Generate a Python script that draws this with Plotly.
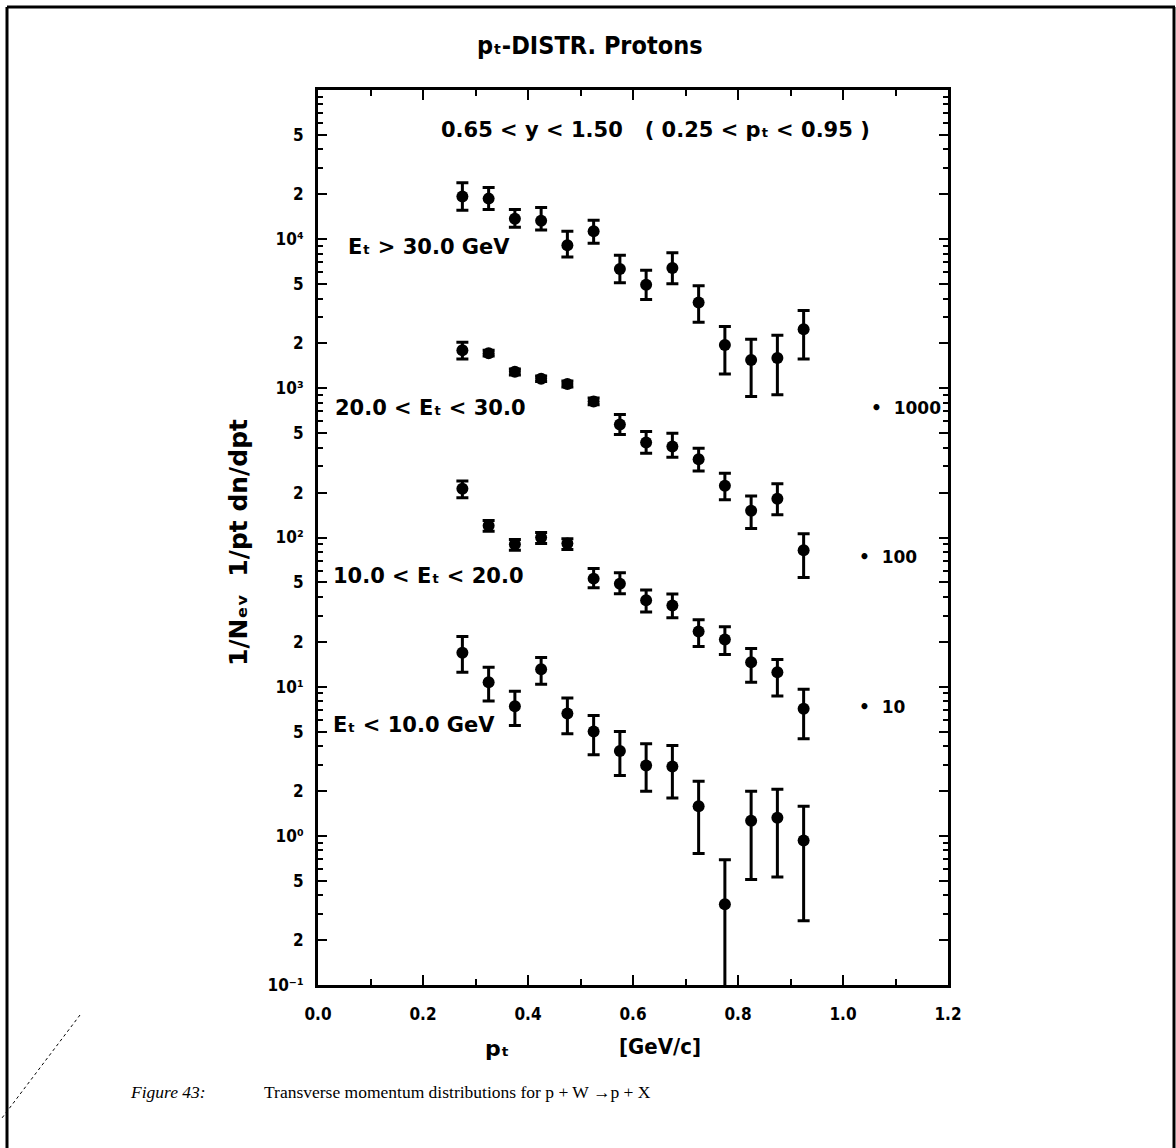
import plotly.graph_objects as go

# ---------------- data ----------------
pt = [0.275, 0.325, 0.375, 0.425, 0.475, 0.525, 0.575,
      0.625, 0.675, 0.725, 0.775, 0.825, 0.875, 0.925]

# E_t > 30 GeV
et30_y = [19300, 18700, 13700, 13300, 9100, 11300, 6300, 4940, 6400, 3760, 1950, 1550, 1600, 2490]
et30_hi = [23900, 22200, 15800, 16300, 11300, 13400, 7800, 6200, 8100, 4880, 2600, 2130, 2270, 3320]
et30_lo = [15600, 15800, 12000, 11500, 7600, 9400, 5100, 3940, 5030, 2770, 1250, 880, 905, 1570]

# 20 < E_t < 30  (x 1000)
et20_y = [1800, 1720, 1290, 1160, 1070, 815, 572, 434, 408, 335, 222, 151, 182, 82]
et20_hi = [2040, 1800, 1350, 1210, 1120, 860, 667, 514, 499, 396, 270, 190, 229, 106]
et20_lo = [1570, 1650, 1230, 1110, 1020, 775, 491, 367, 345, 279, 179, 115, 142, 54]

# 10 < E_t < 20  (x 100)
et10_y = [212, 120, 90, 100, 91, 53, 49, 38, 35, 23.4, 20.7, 14.6, 12.5, 7.1]
et10_hi = [239, 130, 97, 108, 98, 62, 58, 44.5, 41.8, 28.1, 25.2, 18.0, 15.2, 9.6]
et10_lo = [185, 110, 82, 91, 83, 46, 42, 31.7, 29.0, 18.6, 16.4, 10.7, 8.65, 4.48]

# E_t < 10 GeV  (x 10)
et0_y = [16.9, 10.7, 7.4, 13.1, 6.6, 5.0, 3.7, 2.96, 2.92, 1.58, 0.348, 1.26, 1.32, 0.93]
et0_hi = [21.7, 13.5, 9.3, 15.7, 8.4, 6.4, 5.0, 4.15, 4.03, 2.32, 0.69, 1.99, 2.05, 1.58]
et0_lo = [12.5, 8.0, 5.5, 10.4, 4.83, 3.5, 2.54, 1.99, 1.79, 0.76, 0.05, 0.51, 0.53, 0.27]

x_tick_vals = [0.0, 0.2, 0.4, 0.6, 0.8, 1.0, 1.2]
x_tick_text = ["0.0", "0.2", "0.4", "0.6", "0.8", "1.0", "1.2"]

y_tick_vals = [0.1, 0.2, 0.5, 1, 2, 5, 10, 20, 50, 100, 200, 500,
               1000, 2000, 5000, 10000, 20000, 50000]
y_tick_text = ["10\u207b\u00b9", "2", "5", "10\u2070", "2", "5",
               "10\u00b9", "2", "5", "10\u00b2", "2", "5",
               "10\u00b3", "2", "5", "10\u2074", "2", "5"]

series = [(et30_y, et30_hi, et30_lo), (et20_y, et20_hi, et20_lo),
          (et10_y, et10_hi, et10_lo), (et0_y, et0_hi, et0_lo)]

# ---------------- figure ----------------
COND = "DejaVu Sans Condensed, Liberation Sans Narrow, Arial Narrow, sans-serif"
WIDE = "DejaVu Sans, Noto Sans, sans-serif"
SERIF = "Liberation Serif, Times New Roman, serif"

fig = go.Figure()
for ys, his, los in series:
    fig.add_trace(go.Scatter(
        x=pt, y=ys, mode="markers",
        marker=dict(color="black", size=12),
        error_y=dict(type="data", symmetric=False,
                     array=[h - v for h, v in zip(his, ys)],
                     arrayminus=[v - l for v, l in zip(ys, los)],
                     color="black", thickness=3, width=6),
        showlegend=False, cliponaxis=True))

# minor tick positions on the log axis (2..9 in every decade)
minor_vals = []
for e in range(-1, 5):
    for k in range(2, 10):
        minor_vals.append(k * 10 ** e)

L, R, T, B = 318, 228, 90, 163
W, H = 1176, 1148
pw, ph = W - L - R, H - T - B


def px(x):
    return (x - L) / pw


def py(y):
    return (H - B - y) / ph


fig.update_layout(
    width=W, height=H,
    margin=dict(l=L, r=R, t=T, b=B, pad=0),
    paper_bgcolor="white", plot_bgcolor="white",
    font=dict(family=COND, color="black", size=16, weight=700),
    xaxis=dict(range=[0, 1.2], tickvals=x_tick_vals, ticktext=x_tick_text,
               ticks="inside", ticklen=10, tickwidth=2, tickcolor="black",
               showline=True, linewidth=3, linecolor="black", mirror="allticks",
               showgrid=False, zeroline=False, ticklabelstandoff=12,
               tickfont=dict(size=17, family=COND, weight=700),
               minor=dict(tickmode="linear", tick0=0, dtick=0.1, ticks="inside",
                          ticklen=6, tickwidth=2, tickcolor="black", showgrid=False)),
    yaxis=dict(type="log", range=[-1, 5], tickvals=y_tick_vals, ticktext=y_tick_text,
               ticks="inside", ticklen=9, tickwidth=2, tickcolor="black",
               showline=True, linewidth=3, linecolor="black", mirror="allticks",
               showgrid=False, zeroline=False, ticklabelstandoff=8,
               tickfont=dict(size=17, family=COND, weight=700),
               minor=dict(tickmode="array", tickvals=minor_vals, ticks="inside",
                          ticklen=5, tickwidth=2, tickcolor="black", showgrid=False)),
)

ann_font = dict(family=WIDE, size=21, color="black", weight=700)
big_font = dict(family=WIDE, size=22, color="black", weight=700)
cap_font = dict(family=SERIF, size=17.5, color="black", weight=400)
annotations = [
    dict(text="p\u209c-DISTR. Protons", x=px(590), y=py(45), xanchor="center",
         yanchor="middle", font=dict(family=COND, size=25, color="black", weight=700)),
    dict(text="0.65 < y < 1.50   ( 0.25 < p\u209c < 0.95 )", x=px(655), y=py(130),
         xanchor="center", yanchor="middle", font=ann_font),
    dict(text="E\u209c > 30.0 GeV", x=px(346), y=py(247), xanchor="left",
         yanchor="middle", font=ann_font),
    dict(text="20.0 < E\u209c < 30.0", x=px(333), y=py(408), xanchor="left",
         yanchor="middle", font=ann_font),
    dict(text="10.0 < E\u209c < 20.0", x=px(331), y=py(576), xanchor="left",
         yanchor="middle", font=ann_font),
    dict(text="E\u209c < 10.0 GeV", x=px(331), y=py(725), xanchor="left",
         yanchor="middle", font=ann_font),
    dict(text="\u2022  1000", x=px(869), y=py(408), xanchor="left", yanchor="middle",
         font=dict(family=WIDE, size=17, color="black", weight=700)),
    dict(text="\u2022  100", x=px(857), y=py(557), xanchor="left", yanchor="middle",
         font=dict(family=WIDE, size=17, color="black", weight=700)),
    dict(text="\u2022  10", x=px(857), y=py(707), xanchor="left", yanchor="middle",
         font=dict(family=WIDE, size=17, color="black", weight=700)),
    dict(text="1/N\u2091\u1d65  1/pt dn/dpt", x=px(238), y=py(543), textangle=-90,
         xanchor="center", yanchor="middle",
         font=dict(family=WIDE, size=25, color="black", weight=700)),
    dict(text="p\u209c", x=px(497), y=py(1048), xanchor="center", yanchor="middle",
         font=big_font),
    dict(text="[GeV/c]", x=px(660), y=py(1046), xanchor="center", yanchor="middle",
         font=dict(family=COND, size=22, color="black", weight=700)),
    dict(text="<i>Figure 43:</i>", x=px(128), y=py(1092), xanchor="left", yanchor="middle",
         font=cap_font),
    dict(text="Transverse momentum distributions for p + W \u2192p + X", x=px(262),
         y=py(1092), xanchor="left", yanchor="middle", font=cap_font),
]
for a in annotations:
    a.update(xref="paper", yref="paper", showarrow=False)
fig.update_layout(annotations=annotations)

# page frame of the scanned document
frame = dict(color="black", width=3)
fig.add_shape(type="line", xref="paper", yref="paper", x0=px(7), x1=px(1175),
              y0=py(7), y1=py(7), line=frame)
fig.add_shape(type="line", xref="paper", yref="paper", x0=px(7), x1=px(7),
              y0=py(7), y1=py(1148), line=frame)
fig.add_shape(type="line", xref="paper", yref="paper", x0=px(1174), x1=px(1174),
              y0=py(7), y1=py(1148), line=frame)
fig.add_shape(type="line", xref="paper", yref="paper", x0=px(80), x1=px(2),
              y0=py(1015), y1=py(1118), line=dict(color="black", width=1, dash="dot"))

fig.write_html("out.html")
